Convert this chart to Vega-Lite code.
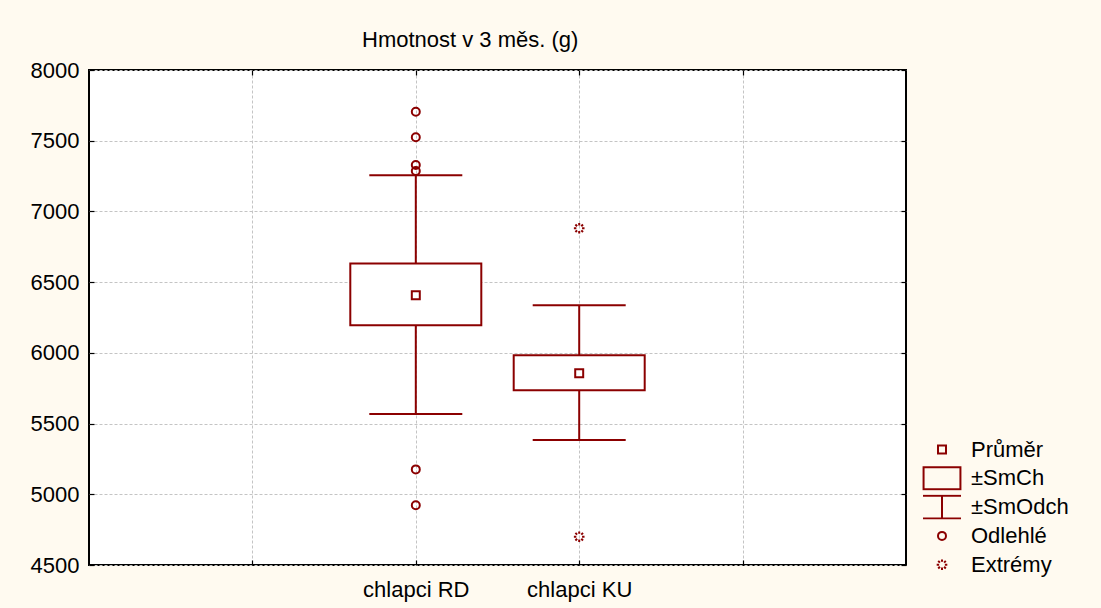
{
  "$schema": "https://vega.github.io/schema/vega-lite/v6.json",
  "autosize": {"type": "none"},
  "padding": {"left": 89, "top": 70, "right": 195, "bottom": 43},
  "width": 817,
  "height": 495,
  "background": "#fffaf0",
  "config": {
    "font": "Liberation Sans",
    "view": {"fill": "#ffffff", "stroke": "#000000", "strokeWidth": 2},
    "axis": {
      "domain": false,
      "labelFont": "Liberation Sans",
      "labelFontSize": 22,
      "labelColor": "#000000",
      "tickColor": "#000000",
      "tickSize": -5,
      "tickWidth": 1.2,
      "gridColor": "#c4c4c4",
      "gridDash": [3, 2],
      "gridWidth": 1,
      "title": null
    }
  },
  "title": {
    "text": "Hmotnost v 3 měs. (g)",
    "anchor": "start",
    "frame": "group",
    "dx": 273,
    "offset": 7,
    "fontSize": 22,
    "fontWeight": "normal",
    "font": "Liberation Sans",
    "color": "#000000"
  },
  "datasets": {
    "stats": [
      {"grp": "chlapci RD", "mean": 6407, "seLow": 6195, "seHigh": 6631, "sdLow": 5568, "sdHigh": 7255},
      {"grp": "chlapci KU", "mean": 5855, "seLow": 5735, "seHigh": 5983, "sdLow": 5384, "sdHigh": 6336}
    ],
    "points": [
      {"grp": "chlapci RD", "type": "Průměr", "value": 6407},
      {"grp": "chlapci RD", "type": "Odlehlé", "value": 7705},
      {"grp": "chlapci RD", "type": "Odlehlé", "value": 7524},
      {"grp": "chlapci RD", "type": "Odlehlé", "value": 7328},
      {"grp": "chlapci RD", "type": "Odlehlé", "value": 7286},
      {"grp": "chlapci RD", "type": "Odlehlé", "value": 5176},
      {"grp": "chlapci RD", "type": "Odlehlé", "value": 4922},
      {"grp": "chlapci KU", "type": "Průměr", "value": 5855},
      {"grp": "chlapci KU", "type": "Extrémy", "value": 6881},
      {"grp": "chlapci KU", "type": "Extrémy", "value": 4700}
    ]
  },
  "layer": [
    {
      "data": {"name": "stats"},
      "mark": {"type": "rule", "color": "#8b0000", "strokeWidth": 2},
      "encoding": {
        "x": {
          "field": "grp", "type": "nominal",
          "scale": {"type": "point", "domain": [" ", "chlapci RD", "chlapci KU", "  "], "padding": 1},
          "axis": {"orient": "bottom", "labelPadding": 19, "grid": true, "labelAngle": 0}
        },
        "y": {
          "field": "sdLow", "type": "quantitative",
          "scale": {"domain": [4500, 8000], "nice": false, "zero": false},
          "axis": {"orient": "left", "labelPadding": 15, "grid": true, "format": "d", "values": [4500, 5000, 5500, 6000, 6500, 7000, 7500, 8000]}
        },
        "y2": {"field": "sdHigh"}
      }
    },
    {
      "data": {"name": "stats"},
      "mark": {"type": "bar", "fill": "#ffffff", "stroke": "#8b0000", "strokeWidth": 2, "size": 131, "opacity": 1},
      "encoding": {
        "x": {
          "field": "grp", "type": "nominal",
          "scale": {"type": "point", "domain": [" ", "chlapci RD", "chlapci KU", "  "], "padding": 1},
          "axis": {"orient": "top", "labels": false, "grid": false}
        },
        "y": {
          "field": "seLow", "type": "quantitative",
          "scale": {"domain": [4500, 8000], "nice": false, "zero": false},
          "axis": {"orient": "right", "labels": false, "grid": false, "values": [4500, 5000, 5500, 6000, 6500, 7000, 7500, 8000]}
        },
        "y2": {"field": "seHigh"}
      }
    },
    {
      "data": {"name": "stats"},
      "mark": {"type": "tick", "orient": "horizontal", "color": "#8b0000", "size": 93, "thickness": 2, "opacity": 1},
      "encoding": {
        "x": {"field": "grp", "type": "nominal", "scale": {"type": "point", "domain": [" ", "chlapci RD", "chlapci KU", "  "], "padding": 1}, "axis": null},
        "y": {"field": "sdLow", "type": "quantitative", "scale": {"domain": [4500, 8000], "nice": false, "zero": false}, "axis": null}
      }
    },
    {
      "data": {"name": "stats"},
      "mark": {"type": "tick", "orient": "horizontal", "color": "#8b0000", "size": 93, "thickness": 2, "opacity": 1},
      "encoding": {
        "x": {"field": "grp", "type": "nominal", "scale": {"type": "point", "domain": [" ", "chlapci RD", "chlapci KU", "  "], "padding": 1}, "axis": null},
        "y": {"field": "sdHigh", "type": "quantitative", "scale": {"domain": [4500, 8000], "nice": false, "zero": false}, "axis": null}
      }
    },
    {
      "data": {"name": "points"},
      "mark": {"type": "point", "filled": false, "color": "#8b0000", "size": 1444, "opacity": 1},
      "encoding": {
        "x": {"field": "grp", "type": "nominal", "scale": {"type": "point", "domain": [" ", "chlapci RD", "chlapci KU", "  "], "padding": 1}, "axis": null},
        "y": {"field": "value", "type": "quantitative", "scale": {"domain": [4500, 8000], "nice": false, "zero": false}, "axis": null},
        "shape": {
          "field": "type", "type": "nominal",
          "scale": {
            "domain": ["Průměr", "±SmCh", "±SmOdch", "Odlehlé", "Extrémy"],
            "range": [
              "M-0.21,-0.21H0.21V0.21H-0.21Z",
              "M-0.97,-0.58H0.97V0.58H-0.97Z",
              "M-1,-0.6H1M0,-0.6V0.6M-1,0.6H1",
              "M-0.21,0A0.21,0.21,0,1,0,0.21,0A0.21,0.21,0,1,0,-0.21,0Z",
              "M-0.28,0H-0.15M0.15,0H0.28M0,-0.28V-0.15M0,0.15V0.28M-0.2,-0.2L-0.11,-0.11M0.11,0.11L0.2,0.2M0.2,-0.2L0.11,-0.11M-0.11,0.11L-0.2,0.2"
            ]
          },
          "legend": {
            "orient": "none",
            "legendX": 833,
            "legendY": 367,
            "title": null,
            "labelFont": "Liberation Sans",
            "labelFontSize": 22,
            "labelColor": "#000000",
            "symbolSize": 1444,
            "clipHeight": 25,
            "rowPadding": 3.8,
            "labelOffset": 9,
            "padding": 0,
            "symbolStrokeColor": "#8b0000",
            "symbolFillColor": "transparent",
            "symbolOpacity": 1
          }
        },
        "strokeWidth": {
          "field": "type", "type": "nominal",
          "scale": {"domain": ["Průměr", "±SmCh", "±SmOdch", "Odlehlé", "Extrémy"], "range": [2, 2, 2, 2, 1]},
          "legend": null
        }
      }
    }
  ],
  "resolve": {"axis": {"x": "independent", "y": "independent"}}
}
